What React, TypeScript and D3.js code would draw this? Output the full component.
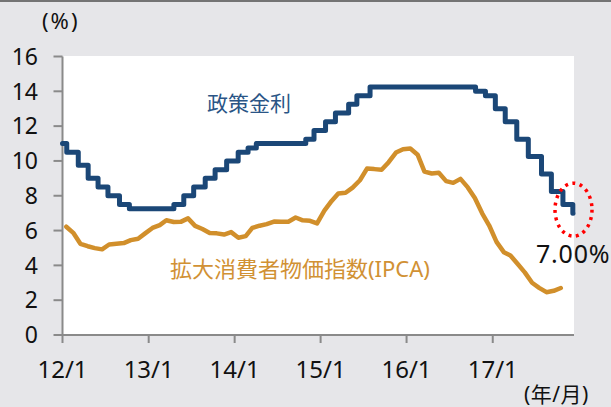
import React from "react";
import * as d3 from "d3";

// Policy rate (Selic) decisions: effective dates and levels (%)
const selicDates = [
  "2012-01-01", "2012-01-19", "2012-03-08", "2012-04-19", "2012-05-31", "2012-07-12",
  "2012-08-30", "2012-10-11", "2013-04-18", "2013-05-30", "2013-07-11", "2013-08-29",
  "2013-10-10", "2013-11-28", "2014-01-16", "2014-02-27", "2014-04-03", "2014-10-30",
  "2014-12-04", "2015-01-22", "2015-03-05", "2015-04-30", "2015-06-04", "2015-07-30",
  "2016-10-20", "2016-12-01", "2017-01-12", "2017-02-23", "2017-04-13", "2017-06-01",
  "2017-07-27", "2017-09-07", "2017-10-26", "2017-12-07", "2017-12-08",
];
const selicValues = [
  11, 10.5, 9.75, 9, 8.5, 8,
  7.5, 7.25, 7.5, 8, 8.5, 9,
  9.5, 10, 10.5, 10.75, 11, 11.25,
  11.75, 12.25, 12.75, 13.25, 13.75, 14.25,
  14, 13.75, 13, 12.25, 11.25, 10.25,
  9.25, 8.25, 7.5, 7, 7,
];

// IPCA (12-month, %) monthly
const ipcaMonths = [
  "2012-01", "2012-02", "2012-03", "2012-04", "2012-05", "2012-06", "2012-07", "2012-08", "2012-09", "2012-10", "2012-11", "2012-12",
  "2013-01", "2013-02", "2013-03", "2013-04", "2013-05", "2013-06", "2013-07", "2013-08", "2013-09", "2013-10", "2013-11", "2013-12",
  "2014-01", "2014-02", "2014-03", "2014-04", "2014-05", "2014-06", "2014-07", "2014-08", "2014-09", "2014-10", "2014-11", "2014-12",
  "2015-01", "2015-02", "2015-03", "2015-04", "2015-05", "2015-06", "2015-07", "2015-08", "2015-09", "2015-10", "2015-11", "2015-12",
  "2016-01", "2016-02", "2016-03", "2016-04", "2016-05", "2016-06", "2016-07", "2016-08", "2016-09", "2016-10", "2016-11", "2016-12",
  "2017-01", "2017-02", "2017-03", "2017-04", "2017-05", "2017-06", "2017-07", "2017-08", "2017-09", "2017-10",
];
const ipcaValues = [
  6.22, 5.85, 5.24, 5.10, 4.99, 4.92, 5.20, 5.24, 5.28, 5.45, 5.53, 5.84,
  6.15, 6.31, 6.59, 6.49, 6.50, 6.70, 6.27, 6.09, 5.86, 5.84, 5.77, 5.91,
  5.59, 5.68, 6.15, 6.28, 6.37, 6.52, 6.50, 6.51, 6.75, 6.59, 6.56, 6.41,
  7.14, 7.70, 8.13, 8.17, 8.47, 8.89, 9.56, 9.53, 9.49, 9.93, 10.48, 10.67,
  10.71, 10.36, 9.39, 9.28, 9.32, 8.84, 8.74, 8.97, 8.48, 7.87, 6.99, 6.29,
  5.35, 4.76, 4.57, 4.08, 3.60, 3.00, 2.71, 2.46, 2.54, 2.70,
];

const yTicks = [0, 2, 4, 6, 8, 10, 12, 14, 16];
const xTickDates = ["2012-01-01", "2013-01-01", "2014-01-01", "2015-01-01", "2016-01-01", "2017-01-01"];
const xTickLabels = ["12/1", "13/1", "14/1", "15/1", "16/1", "17/1"];
const xDomain = ["2012-01-01", "2017-12-12"];
const lastValueLabel = "7.00%";

const W = 611;
const H = 407;
const PLOT = { left: 62.5, right: 574, top: 56.5, bottom: 335 };
const FONT = "'Noto Sans', 'Noto Sans CJK JP', sans-serif";
const AXIS = "#8a8a8a";
const SELIC = "#1b4777";
const IPCA = "#d18f2b";

type Pt = { date: Date; v: number };

export default function App() {
  const parse = d3.utcParse("%Y-%m-%d");
  const x = d3
    .scaleUtc()
    .domain([parse(xDomain[0]) as Date, parse(xDomain[1]) as Date])
    .range([PLOT.left, PLOT.right]);
  const y = d3.scaleLinear().domain([0, 16]).range([PLOT.bottom, PLOT.top]);

  const selic: Pt[] = selicDates.map((d, i) => ({ date: parse(d) as Date, v: selicValues[i] }));
  const ipca: Pt[] = ipcaMonths.map((m, i) => ({ date: parse(m + "-17") as Date, v: ipcaValues[i] }));

  const selicPath = d3
    .line<Pt>()
    .x((d) => x(d.date))
    .y((d) => y(d.v))
    .curve(d3.curveStepAfter)(selic) as string;
  const ipcaPath = d3
    .line<Pt>()
    .x((d) => x(d.date))
    .y((d) => y(d.v))
    .curve(d3.curveLinear)(ipca) as string;

  return (
    <div style={{ position: "absolute", left: 0, top: 0 }}>
      <svg width={W} height={H} style={{ display: "block" }} fontFamily={FONT}>
        <rect x={0} y={0} width={W} height={H} fill="#e6e6e9" />
        <rect x={0} y={0} width={W} height={2} fill="#747474" />
        <rect
          x={PLOT.left}
          y={PLOT.top - 0.5}
          width={PLOT.right - PLOT.left}
          height={PLOT.bottom - PLOT.top + 0.5}
          fill="#ffffff"
        />

        {/* y axis */}
        <line x1={PLOT.left} x2={PLOT.left} y1={y(16)} y2={y(0)} stroke={AXIS} strokeWidth={2} />
        {yTicks.map((t) => (
          <g key={"y" + t}>
            <line x1={PLOT.left - 9} x2={PLOT.left} y1={y(t)} y2={y(t)} stroke={AXIS} strokeWidth={2} />
            <text x={38} y={y(t)} dy="0.36em" textAnchor="end" fontSize={23} fill="#111">
              {t}
            </text>
          </g>
        ))}

        {/* x axis */}
        <line x1={PLOT.left - 1} x2={PLOT.right} y1={PLOT.bottom} y2={PLOT.bottom} stroke={AXIS} strokeWidth={2} />
        {xTickDates.map((d, i) => {
          const xx = x(parse(d) as Date);
          return (
            <g key={"x" + d}>
              <line x1={xx} x2={xx} y1={PLOT.bottom} y2={PLOT.bottom + 8} stroke={AXIS} strokeWidth={2} />
              <text x={xx} y={378} textAnchor="middle" fontSize={24} fill="#111">
                {xTickLabels[i]}
              </text>
            </g>
          );
        })}

        {/* series */}
        <path d={ipcaPath} fill="none" stroke={IPCA} strokeWidth={4.5} strokeLinejoin="round" strokeLinecap="round" />
        <path d={selicPath} fill="none" stroke={SELIC} strokeWidth={5} strokeLinejoin="round" strokeLinecap="round" />

        {/* annotation */}
        <ellipse
          cx={573.5}
          cy={y(7.2)}
          rx={18.5}
          ry={26.5}
          fill="none"
          stroke="#ff0000"
          strokeWidth={3.5}
          strokeDasharray="3 4.5"
        />
        <text x={536} y={263} fontSize={25} fill="#111" letterSpacing={0.8}>
          {lastValueLabel}
        </text>

        {/* labels */}
        <text x={207} y={111} fontSize={21} fill="#2a5586">
          政策金利
        </text>
        <text x={170} y={277} fontSize={22} fill="#d19134">
          拡大消費者物価指数(IPCA)
        </text>
        <text x={42} y={29} fontSize={22} fill="#111" letterSpacing={2}>
          (%)
        </text>
        <text x={524} y={402} fontSize={21} fill="#111" letterSpacing={0.5}>
          (年/月)
        </text>
      </svg>
    </div>
  );
}
